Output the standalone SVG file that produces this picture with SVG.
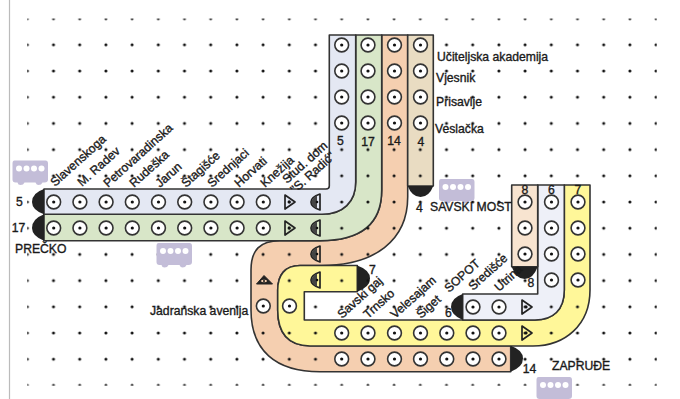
<svg xmlns="http://www.w3.org/2000/svg" width="680" height="399" viewBox="0 0 680 399">
<style>
.b{stroke:#333;stroke-width:1.6;stroke-linejoin:round}
.t{font-family:"Liberation Sans",Arial,sans-serif;font-size:12.2px;fill:#1a1a1a;stroke:#1a1a1a;stroke-width:.35}
.m{text-anchor:middle}
.k{fill:#222}
.bus{fill:#c3bdd8}
</style>
<defs>
<g id="st"><circle r="6.900" fill="#fff" stroke="#333" stroke-width="1.600"/><circle r="1.600" fill="#111"/></g>
<g id="tr"><path d="M-5-7L5 0L-5 7Z" fill="none" stroke="#222" stroke-width="1.700" stroke-linejoin="round"/><circle cx="-.8" r="1.400" fill="#111"/></g>
<g id="tl"><path d="M4-8V8Q-5 5-5 0Q-5-5 4-8Z" fill="none" stroke="#222" stroke-width="1.700" stroke-linejoin="round"/><path d="M-4.500 0Q-4-4 1-6.500V6.500Q-4 4-4.500 0Z" fill="#444"/><circle cx="1" r="1.300" fill="#111"/></g>
<g id="bus"><path class="bus" d="M2 0H33Q35.500 0 35.500 3V19Q35.500 22 32 22H30Q29 24.500 26 24.500Q24 24.500 23 22H12Q11 24.500 8 24.500Q5.500 24.500 5 22H3Q0 22 0 19V3Q0 0 2 0Z"/><g fill="#fff"><circle cx="6.500" cy="8" r="3"/><circle cx="14" cy="8" r="3"/><circle cx="21.500" cy="8" r="3"/><circle cx="29" cy="8" r="3"/></g></g>
<pattern id="dots" x="27.300" y="18.600" width="26.200" height="26.200" patternUnits="userSpaceOnUse"><circle cx="0" cy="0" r="1.500" fill="#111"/><circle cx="26.200" cy="0" r="1.500" fill="#111"/><circle cx="0" cy="26.200" r="1.500" fill="#111"/><circle cx="26.200" cy="26.200" r="1.500" fill="#111"/></pattern>
</defs>
<rect width="680" height="399" fill="#fff"/>
<path d="M9.500 0V399" stroke="#bbb" stroke-width="1.200"/>
<g id="connectors">
<path id="line14" class="b" fill="#f5cfb0" d="M381.700 35H407.700V197C407.700 240 375 266 320 265.500H300C285 265.500 277.700 275 277.700 290V310C277.700 335 290 345.700 310 345.700H510.700V371.700H320C275 371.700 251 350 251 310V270C251 250 260 240.700 280 240.700H320C360 240.700 381.700 225 381.700 190Z"/>
<path id="line17" class="b" fill="#d8e6c8" d="M355.700 35H381.700V190C381.700 225 360 240.700 320 240.700H44V214.300H322C343 214.300 355.700 202 355.700 182Z"/>
<path id="line5" class="b" fill="#e4e8f3" d="M329.300 35H355.700V182C355.700 202 343 214.300 322 214.300H44V189H326Q329.300 189 329.300 186Z"/>
<path id="line4" class="b" fill="#e9dcc2" d="M407.700 35H433.300V186H407.700Z"/>
<path id="line7" class="b" fill="#fff799" d="M564.300 185H590V290C590 325 565 346 533 346H310C290 345.700 277.700 335 277.700 310V290C277.700 275 285 265.500 300 265.500H357.300V291.700H304.300V320H535C553 320 564.300 310 564.300 290Z"/>
<path id="line6" class="b" fill="#eef0f8" d="M537.700 185H564.300V290C564.300 310 553 320 535 320H462.700V294H537.700Z"/>
<path id="line8" class="b" fill="#f8e4d0" d="M511.700 185H537.700V266.700H511.700Z"/>
<path class="k" d="M44 189Q32 193 32 202Q32 210 44 214.300Z"/>
<path class="k" d="M44 214.300Q32 219 32 228Q32 236 44 240.700Z"/>
<path class="k" d="M407.700 186H433.300Q429 197 420.500 197Q412 197 407.700 186Z"/>
<path class="k" d="M357.300 265.500Q370 270 370 278.500Q370 287 357.300 291.700Z"/>
<path class="k" d="M462.700 294Q451 298 451 307Q451 315 462.700 320Z"/>
<path class="k" d="M511.700 266.700H537.700Q533 279 524.700 279Q516 279 511.700 266.700Z"/>
<path class="k" d="M510.700 345.700Q523 350 523 358.500Q523 367 510.700 371.700Z"/>
</g>
<rect id="grid" x="27.300" y="18.600" width="629.400" height="367" fill="url(#dots)"/>
<g id="stations">
<use href="#st" x="53.700" y="202"/><use href="#st" x="79.900" y="202"/><use href="#st" x="106.100" y="202"/><use href="#st" x="132.300" y="202"/><use href="#st" x="158.500" y="202"/><use href="#st" x="184.700" y="202"/><use href="#st" x="210.900" y="202"/><use href="#st" x="237.100" y="202"/><use href="#st" x="263.300" y="202"/>
<use href="#st" x="53.700" y="228"/><use href="#st" x="79.900" y="228"/><use href="#st" x="106.100" y="228"/><use href="#st" x="132.300" y="228"/><use href="#st" x="158.500" y="228"/><use href="#st" x="184.700" y="228"/><use href="#st" x="210.900" y="228"/><use href="#st" x="237.100" y="228"/><use href="#st" x="263.300" y="228"/>
<use href="#tr" x="290" y="202"/><use href="#tr" x="290" y="228"/><use href="#tl" x="316" y="202"/><use href="#tl" x="316" y="228"/><use href="#tl" x="316" y="254"/><use href="#tl" x="316" y="280"/>
<use href="#st" x="341.700" y="45"/><use href="#st" x="341.700" y="71"/><use href="#st" x="341.700" y="97"/><use href="#st" x="341.700" y="123"/>
<use href="#st" x="368" y="45"/><use href="#st" x="368" y="71"/><use href="#st" x="368" y="97"/><use href="#st" x="368" y="123"/>
<use href="#st" x="394.500" y="45"/><use href="#st" x="394.500" y="71"/><use href="#st" x="394.500" y="97"/><use href="#st" x="394.500" y="123"/>
<use href="#st" x="420.500" y="45"/><use href="#st" x="420.500" y="71"/><use href="#st" x="420.500" y="97"/><use href="#st" x="420.500" y="123"/>
<use href="#st" x="263.300" y="306"/><use href="#st" x="289.500" y="306"/>
<path d="M256.500 284L264 275.500L272.500 284Z" fill="#222" stroke="#222" stroke-width="1"/><ellipse cx="264" cy="281" rx="3" ry="1.300" fill="#f5cfb0"/><circle cx="264" cy="281" r="1" fill="#111"/>
<use href="#st" x="341.700" y="333"/><use href="#st" x="368" y="333"/><use href="#st" x="394.500" y="333"/><use href="#st" x="420.500" y="333"/><use href="#st" x="446.800" y="333"/><use href="#st" x="473" y="333"/><use href="#st" x="499" y="333"/>
<use href="#st" x="341.700" y="359"/><use href="#st" x="368" y="359"/><use href="#st" x="394.500" y="359"/><use href="#st" x="420.500" y="359"/><use href="#st" x="446.800" y="359"/><use href="#st" x="473" y="359"/><use href="#st" x="499" y="359"/>
<use href="#st" x="473" y="307"/><use href="#st" x="499" y="307"/>
<use href="#tr" x="527" y="307"/><use href="#tr" x="527" y="333"/>
<use href="#st" x="525" y="202"/><use href="#st" x="525" y="228"/><use href="#st" x="525" y="254"/>
<use href="#st" x="551.500" y="202"/><use href="#st" x="551.500" y="228"/><use href="#st" x="551.500" y="254"/><use href="#st" x="551.500" y="280"/>
<use href="#st" x="578" y="202"/><use href="#st" x="578" y="228"/><use href="#st" x="578" y="254"/><use href="#st" x="578" y="280"/>
</g>
<g id="buses">
<use href="#bus" x="12.500" y="160.500"/><use href="#bus" x="156.500" y="243"/><use href="#bus" x="439" y="179"/><use href="#bus" x="536.500" y="377"/>
</g>
<g id="labels">
<g class="t">
<text transform="translate(55,187) rotate(-42)">Slavenskoga</text>
<text transform="translate(82,187) rotate(-42)">M. Radev</text>
<text transform="translate(108,188) rotate(-42)">Petrovaradinska</text>
<text transform="translate(134,188) rotate(-42)">Rudeška</text>
<text transform="translate(160,188) rotate(-42)">Jarun</text>
<text transform="translate(186,188) rotate(-42)">Štagišće</text>
<text transform="translate(212,188) rotate(-42)">Srednjaci</text>
<text transform="translate(239,188) rotate(-42)">Horvati</text>
<text transform="translate(265,188) rotate(-42)">Knežija</text>
<text transform="translate(287,184) rotate(-42)">Stud. dom</text>
<text transform="translate(295,194) rotate(-42)">"S. Radić"</text>
<text transform="translate(342,319) rotate(-42)">Savski gaj</text>
<text transform="translate(368,319) rotate(-42)">Trnsko</text>
<text transform="translate(395,319) rotate(-42)">Velesajam</text>
<text transform="translate(421,319) rotate(-42)">Šiget</text>
<text transform="translate(449,293) rotate(-42)">SOPOT</text>
<text transform="translate(473,291) rotate(-42)">Središće</text>
<text transform="translate(499,292) rotate(-42)">Utrina</text>
<text x="437" y="61">Učiteljska akademija</text>
<text x="436" y="82">Vjesnik</text>
<text x="436" y="106">Prisavlje</text>
<text x="435" y="133">Veslačka</text>
<text x="150" y="315">Jadranska avenija</text>
<text x="15" y="253">PREČKO</text>
<text x="430" y="211">SAVSKI MOST</text>
<text x="552" y="370">ZAPRUĐE</text>
<text class="m" x="340.500" y="145">5</text>
<text class="m" x="368" y="146">17</text>
<text class="m" x="394" y="145">14</text>
<text class="m" x="421" y="146">4</text>
<text class="m" x="19.500" y="206">5</text>
<text class="m" x="18.500" y="232">17</text>
<text class="m" x="419.500" y="212">4</text>
<text class="m" x="372.500" y="274">7</text>
<text class="m" x="448.500" y="317">6</text>
<text class="m" x="525" y="194">8</text>
<text class="m" x="551.500" y="194">6</text>
<text class="m" x="578" y="194">7</text>
<text class="m" x="531" y="287">8</text>
<text class="m" x="529.500" y="373">14</text>
</g>
</g>
</svg>
